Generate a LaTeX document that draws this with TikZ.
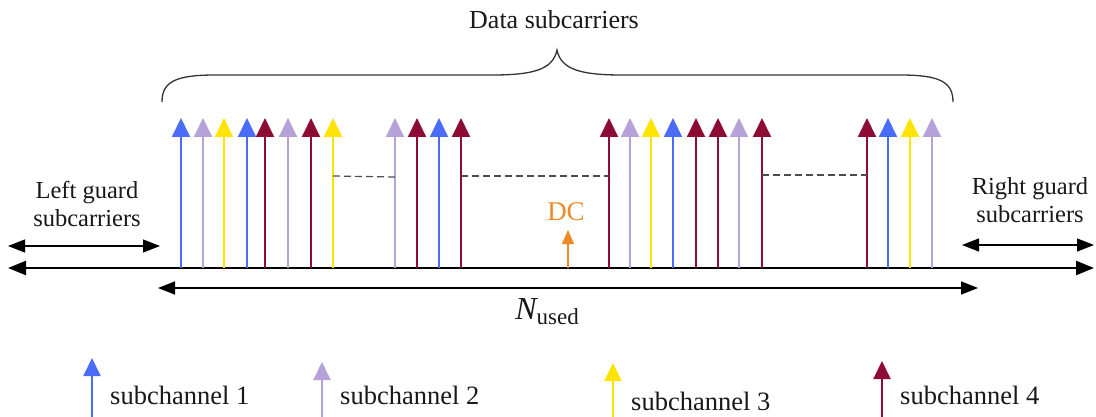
\documentclass[tikz,border=0pt]{standalone}
\usepackage{fontspec}
\setmainfont{Liberation Serif}
\usetikzlibrary{arrows.meta}
\definecolor{scA}{RGB}{74,108,246}
\definecolor{scB}{RGB}{182,162,216}
\definecolor{scC}{RGB}{255,228,0}
\definecolor{scD}{RGB}{140,12,52}
\definecolor{dcorange}{RGB}{238,138,40}
\begin{document}
\begin{tikzpicture}[x=1pt,y=-1pt,
  carrier/.style={line width=2pt,-{Triangle[width=18pt,length=19pt]}},
  axisarrow/.style={line width=2.4pt,{Triangle[width=14pt,length=18pt]}-{Triangle[width=14pt,length=18pt]}},
  spanarrow/.style={line width=1.6pt,{Triangle[width=13pt,length=17pt]}-{Triangle[width=13pt,length=17pt]}},
  lbl/.style={font=\fontsize{24.5}{28.5}\selectfont, align=center, text=black!90},
  legendtext/.style={font=\fontsize{26.5}{30}\selectfont, anchor=west, inner sep=0pt, text=black!90},
  gap/.style={dashed, dash pattern=on 7pt off 4pt, line width=1.2pt, draw=black!70}]
\useasboundingbox (0,0) rectangle (1096,417);
\fill[white] (0,0) rectangle (1096,417);

% main frequency axis
\coordinate (axL) at (8,268);
\coordinate (axR) at (1094,268);
\draw[axisarrow] (axL) -- (axR);

% subcarriers: colour letter and position
\foreach \c/\x in {A/181,B/203,C/224,A/247,D/265,B/288,D/311,C/333,
                   B/395,D/417,A/439,D/461,
                   D/609,B/630,C/651,A/673,D/696,D/718,B/739,D/762,
                   D/867,A/888,C/910,B/932}
  \draw[carrier, draw=sc\c] (\x,268) -- (\x,118);

% gaps between groups of subcarriers
\draw[gap] (333,176) -- (395,177);
\draw[gap] (461,176) -- (609,176);
\draw[gap] (762,175) -- (867,175);

% DC subcarrier
\coordinate (dcBase) at (568,268);
\coordinate (dcTip) at (568,230);
\draw[line width=1.6pt, draw=dcorange, -{Triangle[width=12pt,length=14pt]}] (dcBase) -- (dcTip);
\node[lbl, text=dcorange, font=\fontsize{27}{30}\selectfont] (dc) at (566,212) {DC};

% data subcarriers brace
\draw[line width=1.3pt, draw=black!80]
  (162,102) .. controls (162,82) and (175,75) .. (215,75) -- (492,75)
  .. controls (532,75) and (553,70) .. (557,50)
  .. controls (561,70) and (582,75) .. (622,75) -- (900,75)
  .. controls (940,75) and (953,82) .. (953,102);
\node[lbl, font=\fontsize{26}{30}\selectfont] (data) at (554,20) {Data subcarriers};

% guard bands
\node[lbl] (lg) at (87,204) {Left guard\\subcarriers};
\coordinate (lgL) at (8,246);
\coordinate (lgR) at (160,246);
\draw[spanarrow, line width=1.2pt] (lgL) -- (lgR);

\node[lbl] (rg) at (1030,200) {Right guard\\subcarriers};
\coordinate (rgL) at (962,245);
\coordinate (rgR) at (1094,245);
\draw[spanarrow, line width=1.2pt] (rgL) -- (rgR);

% used band
\coordinate (nuL) at (158,288);
\coordinate (nuR) at (978,288);
\draw[spanarrow] (nuL) -- (nuR);
\node[lbl, inner sep=0pt] (nused) at (547,312) {\fontsize{32}{32}\selectfont\itshape N\fontsize{23}{23}\selectfont\upshape\raisebox{-5pt}{used}};

% legend
\foreach \c/\x/\t/\ty/\n in {A/92/358/395/1, B/322/362/395/2, C/613/363/401/3, D/882/361/395/4}{
  \draw[line width=2pt, draw=sc\c, -{Triangle[width=17pt,length=18pt]}] (\x,417) -- (\x,\t);
  \node[legendtext] (leg\n) at (\x+18,\ty) {subchannel \n};
}
\end{tikzpicture}
\end{document}
